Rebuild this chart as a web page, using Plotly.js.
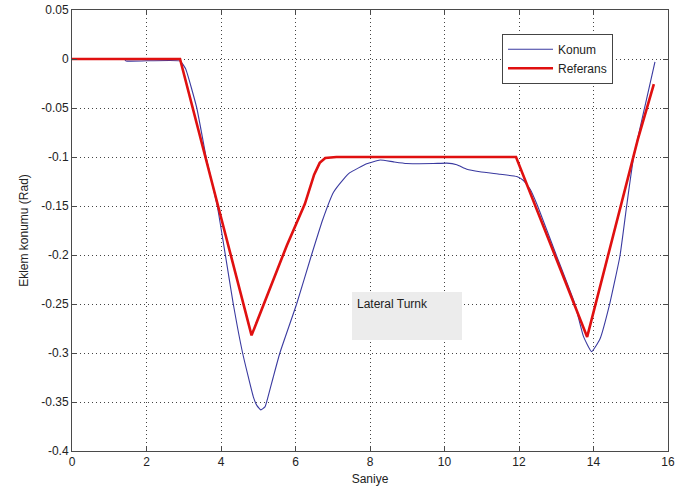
<!DOCTYPE html>
<html>
<head>
<meta charset="utf-8">
<script src="https://cdn.plot.ly/plotly-3.0.1.min.js"></script>
<style>html,body{margin:0;padding:0;background:#fff;}#chart{width:677px;height:500px;}</style>
</head>
<body>
<div id="chart"></div>
<script>
// Referans (reference trajectory)
const refX = [0, 2.9, 4.82, 5.3, 5.77, 6.25, 6.5, 6.65, 6.8, 7.1, 11.92, 13.83, 14.5, 15.19, 15.62];
const refY = [0, 0, -0.282, -0.235, -0.19, -0.148, -0.118, -0.106, -0.101, -0.1, -0.1, -0.2836, -0.185, -0.082, -0.0256];

// Konum (measured position)
const konX = [0, 1.4, 1.45, 2.9, 3.05, 3.35, 3.6, 3.9, 4.33, 4.58, 4.87, 4.97, 5.07, 5.18, 5.26, 5.4, 5.58, 6.03, 6.43, 6.73, 7.02, 7.28, 7.46, 7.91, 8.27, 8.63, 8.98, 9.7, 10.06, 10.33, 10.6, 10.95, 11.49, 11.94, 12.12, 12.3, 12.5, 13.0, 13.5, 13.73, 13.95, 14.17, 14.44, 14.71, 14.89, 15.07, 15.4, 15.65];
const konY = [0, 0, -0.002, -0.002, -0.01, -0.05, -0.1, -0.15, -0.25, -0.3, -0.345, -0.354, -0.358, -0.355, -0.345, -0.325, -0.3, -0.25, -0.2, -0.164, -0.136, -0.123, -0.116, -0.107, -0.103, -0.105, -0.1067, -0.1067, -0.1063, -0.108, -0.1125, -0.115, -0.1176, -0.12, -0.124, -0.133, -0.15, -0.2, -0.25, -0.283, -0.2986, -0.286, -0.249, -0.201, -0.15, -0.102, -0.045, -0.003];

const xTicks = [0, 2, 4, 6, 8, 10, 12, 14, 16];
const yTicks = [0.05, 0, -0.05, -0.1, -0.15, -0.2, -0.25, -0.3, -0.35, -0.4];
const yTickText = ['0.05', '0', '-0.05', '-0.1', '-0.15', '-0.2', '-0.25', '-0.3', '-0.35', '-0.4'];

const traces = [
  {x: konX, y: konY, name: 'Konum', type: 'scatter', mode: 'lines',
   line: {color: '#3a3aa0', width: 1.1, shape: 'spline', smoothing: 0.4}},
  {x: refX, y: refY, name: 'Referans', type: 'scatter', mode: 'lines',
   line: {color: '#e01010', width: 2.6}}
];

const axisCommon = {
  showline: true, linecolor: '#4a4a4a', linewidth: 1, mirror: 'ticks',
  ticks: 'inside', ticklen: 5, tickcolor: '#4a4a4a',
  showgrid: true, gridcolor: '#444', griddash: '1px,3px', gridwidth: 1,
  zeroline: false, tickfont: {family: 'Liberation Sans, Arial, sans-serif', size: 12, color: '#222'}
};

const layout = {
  width: 677, height: 500,
  margin: {l: 72, r: 9, t: 10, b: 49},
  paper_bgcolor: '#fff', plot_bgcolor: '#fff',
  showlegend: true,
  font: {family: 'Liberation Sans, Arial, sans-serif', size: 12, color: '#222'},
  xaxis: Object.assign({}, axisCommon, {
    range: [0, 16], tickvals: xTicks, ticktext: xTicks.map(String),
    title: {text: 'Saniye', font: {size: 12, color: '#222'}, standoff: 6}
  }),
  yaxis: Object.assign({}, axisCommon, {
    range: [-0.4, 0.05], tickvals: yTicks, ticktext: yTickText,
    title: {text: 'Eklem konumu (Rad)', font: {size: 12, color: '#222'}, standoff: 10}
  }),
  legend: {
    x: 0.7215, y: 0.946, xanchor: 'left', yanchor: 'top',
    bgcolor: '#fff', bordercolor: '#444', borderwidth: 1,
    font: {size: 12, color: '#222'}, tracegroupgap: 0, itemwidth: 45
  },
  annotations: [{
    x: 8.99, y: -0.2618, xref: 'x', yref: 'y', showarrow: false,
    text: 'Lateral Turnk', width: 100, height: 38, align: 'left', valign: 'top',
    bgcolor: '#ececec', borderpad: 5, borderwidth: 0,
    font: {size: 12, color: '#222'}
  }]
};

Plotly.newPlot('chart', traces, layout, {displayModeBar: false, staticPlot: true});
</script>
</body>
</html>
